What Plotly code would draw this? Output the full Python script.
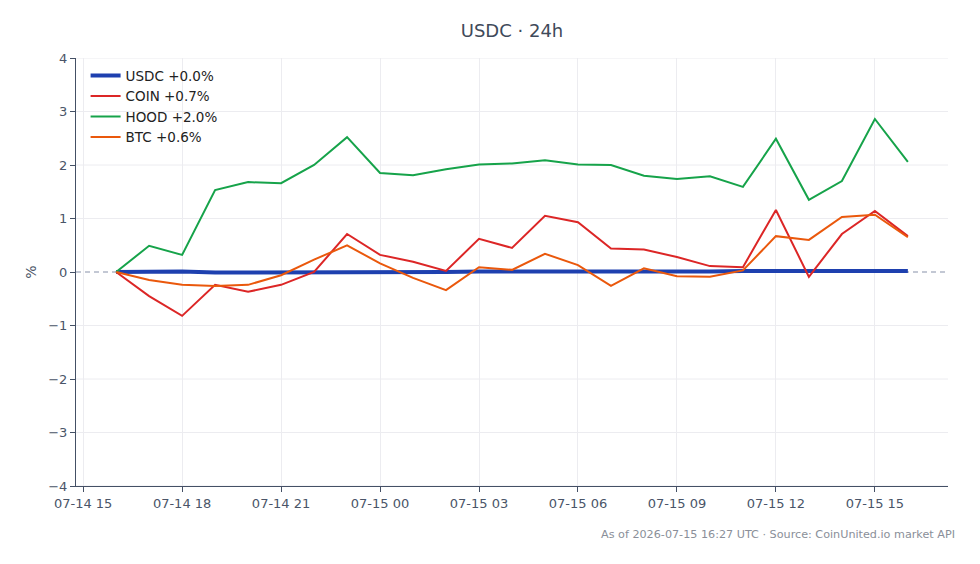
import plotly.graph_objects as go
import pandas as pd

times = pd.date_range("2026-07-14 16:00", "2026-07-15 16:00", freq="h")

usdc = [0.0, 0.01, 0.01, -0.01, -0.01, 0.0, 0.0, 0.0, 0.0, 0.0, 0.0, 0.01, 0.01, 0.01,
        0.01, 0.0, 0.0, 0.0, 0.01, 0.02, 0.02, 0.02, 0.02, 0.02, 0.02]
coin = [0.0, -0.45, -0.82, -0.24, -0.37, -0.24, 0.0, 0.71, 0.32, 0.19, 0.02, 0.62, 0.45,
        1.05, 0.93, 0.44, 0.42, 0.28, 0.11, 0.09, 1.16, -0.09, 0.71, 1.14, 0.67]
hood = [0.0, 0.49, 0.32, 1.53, 1.68, 1.66, 2.0, 2.52, 1.85, 1.81, 1.92, 2.01, 2.03,
        2.09, 2.01, 2.0, 1.8, 1.74, 1.79, 1.59, 2.49, 1.35, 1.70, 2.86, 2.06]
btc = [0.0, -0.15, -0.24, -0.26, -0.24, -0.06, 0.23, 0.50, 0.16, -0.11, -0.34, 0.09, 0.04,
       0.34, 0.13, -0.26, 0.07, -0.08, -0.09, 0.03, 0.67, 0.60, 1.03, 1.07, 0.65]

names = ["USDC +0.0%", "COIN +0.7%", "HOOD +2.0%", "BTC +0.6%"]
series = [usdc, coin, hood, btc]
colors = ["#1e40af", "#dc2626", "#16a34a", "#ea580c"]
widths = [4, 2, 2, 2]

tick_vals = pd.date_range("2026-07-14 15:00", "2026-07-15 15:00", freq="3h")
tick_text = [t.strftime("%m-%d %H") for t in tick_vals]
y_ticks = [-4, -3, -2, -1, 0, 1, 2, 3, 4]
y_text = [str(v).replace("-", "\u2212") for v in y_ticks]

grid_color = "#ececf0"

fig = go.Figure()
for n, s, c, w in zip(names, series, colors, widths):
    fig.add_trace(go.Scatter(x=times, y=s, name=n, mode="lines",
                             line=dict(color=c, width=w)))

# horizontal gridlines as shapes (so the dashed zero line sits above them)
for v in y_ticks:
    if v != 0:
        fig.add_hline(y=v, line=dict(color=grid_color, width=1), layer="below")
fig.add_hline(y=0, line=dict(color="#8892aa", width=1.1, dash="5px,4px"), layer="below")

font_color = "#4a5568"
fig.update_layout(
    width=980, height=564,
    paper_bgcolor="white", plot_bgcolor="white",
    margin=dict(l=76, r=32, t=58, b=78),
    font=dict(family="DejaVu Sans", size=13, color=font_color),
    title=dict(text="USDC · 24h", x=0.5, xref="paper", xanchor="center",
               y=0.945, yanchor="middle",
               font=dict(size=18, color="#3f4a5a")),
    showlegend=True,
    legend=dict(x=0.011, y=0.995, xanchor="left", yanchor="top",
                bgcolor="rgba(255,255,255,0)", font=dict(size=13.5, color="#222"),
                tracegroupgap=0),
    xaxis=dict(range=["2026-07-14 14:47", "2026-07-15 17:13"],
               tickvals=tick_vals, ticktext=tick_text,
               showgrid=True, gridcolor=grid_color, zeroline=False,
               showline=True, linecolor="#445065", linewidth=1,
               ticks="outside", ticklen=5, tickcolor="#445065",
               tickfont=dict(size=13, color=font_color)),
    yaxis=dict(range=[-4, 4], tickvals=y_ticks, ticktext=y_text,
               showgrid=False, zeroline=False,
               showline=True, linecolor="#445065", linewidth=1,
               ticks="outside", ticklen=5, tickcolor="#445065",
               title=dict(text="%", standoff=8, font=dict(size=14, color=font_color)),
               tickfont=dict(size=13, color=font_color)),
    annotations=[dict(text="As of 2026-07-15 16:27 UTC · Source: CoinUnited.io market API",
                      xref="paper", yref="paper", x=1.01, y=-0.093,
                      xanchor="right", yanchor="top", showarrow=False,
                      font=dict(size=11.2, color="#8a8f99"))],
)

fig.write_html("out.html")
